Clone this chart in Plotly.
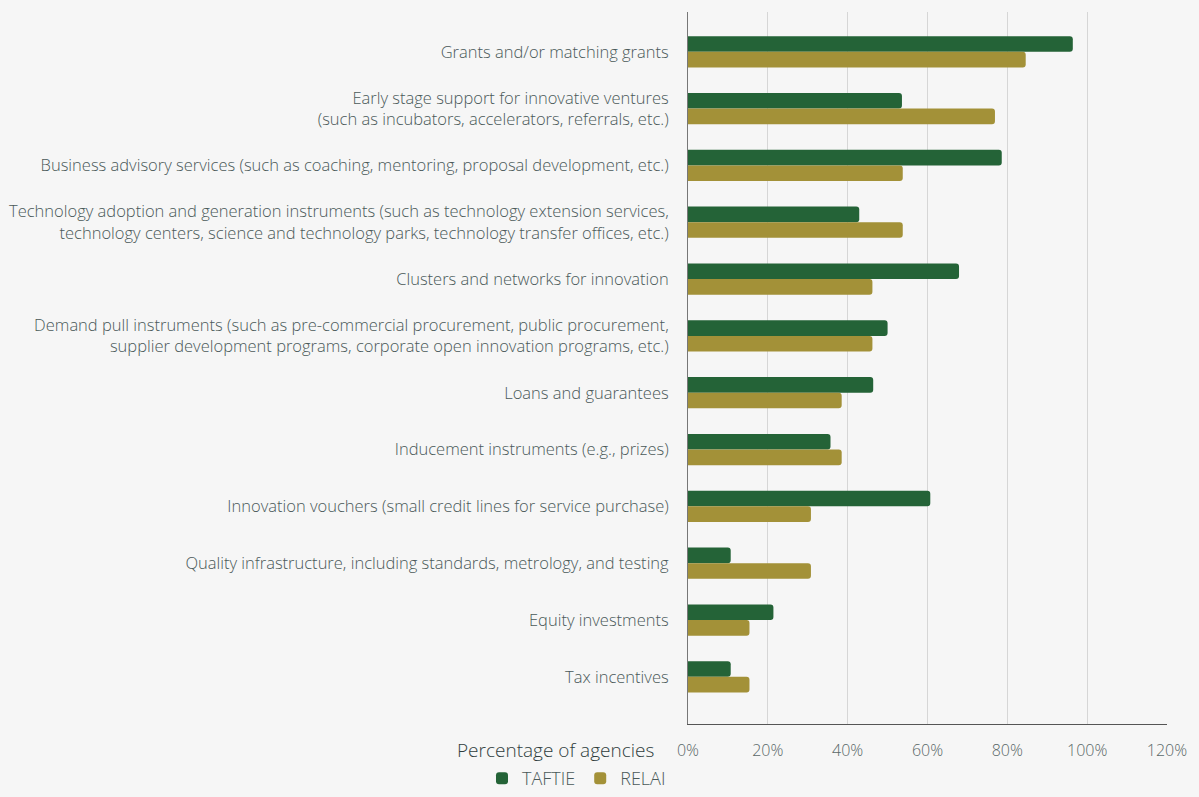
import plotly.graph_objects as go

categories = [
    "Grants and/or matching grants",
    "Early stage support for innovative ventures<br>(such as incubators, accelerators, referrals, etc.)",
    "Business advisory services (such as coaching, mentoring, proposal development, etc.)",
    "Technology adoption and generation instruments (such as technology extension services,<br>technology centers, science and technology parks, technology transfer offices, etc.)",
    "Clusters and networks for innovation",
    "Demand pull instruments (such as pre-commercial procurement, public procurement,<br>supplier development programs, corporate open innovation programs, etc.)",
    "Loans and guarantees",
    "Inducement instruments (e.g., prizes)",
    "Innovation vouchers (small credit lines for service purchase)",
    "Quality infrastructure, including standards, metrology, and testing",
    "Equity investments",
    "Tax incentives",
]

taftie = [96.4, 53.6, 78.6, 42.9, 67.9, 50.0, 46.4, 35.7, 60.7, 10.7, 21.4, 10.7]
relai = [84.6, 76.9, 53.8, 53.8, 46.2, 46.2, 38.5, 38.5, 30.8, 30.8, 15.4, 15.4]

x_ticks = [0, 20, 40, 60, 80, 100, 120]
x_tick_labels = ["0%", "20%", "40%", "60%", "80%", "100%", "120%"]

GREEN = "#246337"
OLIVE = "#a39138"
TEXT = "#4a5959"
FONT = "Open Sans"

fig = go.Figure()
fig.add_trace(go.Bar(y=categories, x=taftie, name="TAFTIE", orientation="h",
                     marker=dict(color=GREEN, cornerradius=3, line=dict(width=0))))
fig.add_trace(go.Bar(y=categories, x=relai, name="RELAI", orientation="h",
                     marker=dict(color=OLIVE, cornerradius=3, line=dict(width=0))))

fig.update_layout(
    width=1199, height=797,
    margin=dict(l=688, r=32, t=12, b=73, autoexpand=False),
    paper_bgcolor="#f6f6f6", plot_bgcolor="#f6f6f6",
    barmode="group", bargap=0.45, bargroupgap=0,
    font=dict(family=FONT, color=TEXT, size=16, weight=300),
    showlegend=True,
    legend=dict(orientation="h", xref="container", yref="container",
                x=0.402, y=-0.005, xanchor="left", yanchor="bottom",
                font=dict(size=18, color=TEXT, weight=300), traceorder="normal",
                itemwidth=30, bgcolor="rgba(0,0,0,0)",
                borderwidth=0),
)

fig.update_xaxes(
    range=[0, 120], tickvals=x_ticks, ticktext=x_tick_labels,
    showgrid=True, gridcolor="#d6d6d6", gridwidth=1,
    showline=True, linecolor="#555555", linewidth=1,
    zeroline=False, ticks="", ticklabelstandoff=12, automargin=False,
    tickfont=dict(size=16, color="#5a6868", weight=300),
)
fig.update_yaxes(
    categoryorder="array", categoryarray=categories,
    range=[11.83, -0.70],
    showgrid=False, showline=True, linecolor="#777777", linewidth=1,
    ticks="", ticklabelstandoff=15, automargin=False,
    tickfont=dict(size=16.5, color=TEXT, weight=300),
)

fig.add_annotation(
    text="Percentage of agencies", xref="paper", yref="paper",
    x=0, y=0, xanchor="right", yanchor="middle", xshift=-32, yshift=-26,
    showarrow=False, font=dict(size=19, color="#2f3d3d", family=FONT, weight=300),
)

fig.write_html("out.html")
